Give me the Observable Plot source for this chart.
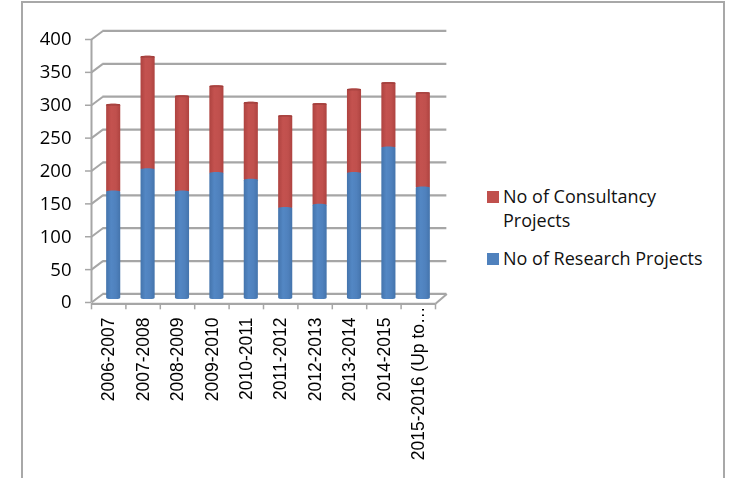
<!DOCTYPE html>
<html><head><meta charset="utf-8">
<script src="https://cdn.jsdelivr.net/npm/d3@7"></script>
<script src="https://cdn.jsdelivr.net/npm/@observablehq/plot@0.6"></script>
<style>
html,body{margin:0;padding:0;background:#fff;overflow:hidden}
#wrap{position:relative;width:731px;height:478px}
#frame{position:absolute;left:21px;top:1px;width:700px;height:490px;border:2px solid #a8a8a8;border-bottom:none}
#chart{position:absolute;left:0;top:0}
#chart svg{filter:blur(.35px)}
.lg{position:absolute;font:18px/24px "Open Sans",sans-serif;color:#111;white-space:nowrap}
.sw{position:absolute;width:12px;height:12px}
</style></head><body>
<div id="wrap"><div id="frame"></div><div id="chart"></div>
<div class="sw" style="left:487px;top:191px;background:#c0504d"></div>
<div class="lg" style="left:503px;top:184px">No of Consultancy<br>Projects</div>
<div class="sw" style="left:487px;top:253px;background:#4f81bd"></div>
<div class="lg" style="left:503px;top:246px">No of Research Projects</div>
</div>
<script>
const categories = ["2006-2007","2007-2008","2008-2009","2009-2010","2010-2011","2011-2012","2012-2013","2013-2014","2014-2015","2015-2016 (Up to…"];
const research = [165,199,165,193,183,140,145,193,232,171];
const consultancy = [132,171,145,132,117,140,153,127,98,144];
const yTicks = [0,50,100,150,200,250,300,350,400];
const xEdges = d3.range(0,11);
const depthX = 0.33, depthY = 13;
const gridColor = "#a6a6a6";
const barHalf = 0.205;

const rows = categories.map((c,i)=>({i,c,r:research[i],t:research[i]+consultancy[i]}));

const gradient = () => {
  const s = d3.create("svg:defs");
  const add = (id, edge, mid, light) => {
    const g = s.append("linearGradient").attr("id", id);
    g.append("stop").attr("offset","0%").attr("stop-color",edge);
    g.append("stop").attr("offset","35%").attr("stop-color",light);
    g.append("stop").attr("offset","70%").attr("stop-color",mid);
    g.append("stop").attr("offset","100%").attr("stop-color",edge);
  };
  add("gr","#ae4340","#c0504d","#c4524f");
  add("gb","#4474ac","#4f81bd","#5387c4");
  add("gc","#9c3a37","#a94441","#a94441");
  return s.node();
};

const barOpts = {dx:5, dy:-3, rx:5, ry:1.5};
const plot = Plot.plot({
  width:731, height:478,
  marginLeft:91, marginRight:296, marginTop:39, marginBottom:176,
  x:{type:"linear", domain:[0,10], axis:null},
  y:{domain:[0,400], axis:null},
  marks:[
    gradient,
    Plot.ruleY(yTicks.map(v=>v+depthY),{x1:depthX,x2:10+depthX,stroke:gridColor,strokeWidth:2.2}),
    Plot.link(yTicks,{x1:0,y1:d=>d,x2:depthX,y2:d=>d+depthY,stroke:gridColor,strokeWidth:2}),
    Plot.link([0],{x1:10,y1:-2,x2:10+depthX,y2:depthY,stroke:gridColor,strokeWidth:2}),
    Plot.ruleX([0],{y1:0,y2:400,stroke:gridColor,strokeWidth:2}),
    Plot.ruleY([-2],{x1:0,x2:10,stroke:gridColor,strokeWidth:2.2}),
    Plot.axisY(yTicks,{anchor:"left",tickSize:6,tickPadding:14,stroke:gridColor,strokeWidth:1.5,fill:"#000",
      fontSize:18.5,fontFamily:"Open Sans",label:null,tickFormat:d=>d}),
    Plot.axisX(xEdges,{anchor:"bottom",y:-2,tickSize:6,tickFormat:()=>"",stroke:gridColor,strokeWidth:1.5,label:null}),
    Plot.rect(rows,{x1:d=>d.i+.5-barHalf,x2:d=>d.i+.5+barHalf,y1:d=>d.r-3,y2:"t",fill:"url(#gr)",...barOpts}),
    Plot.rect(rows,{x1:d=>d.i+.5-barHalf,x2:d=>d.i+.5+barHalf,y1:d=>d.t-3,y2:"t",fill:"url(#gc)",...barOpts}),
    Plot.rect(rows,{x1:d=>d.i+.5-barHalf,x2:d=>d.i+.5+barHalf,y1:0,y2:"r",fill:"url(#gb)",...barOpts}),
    Plot.text(rows.slice(0,9),{x:d=>d.i+.5,y:0,text:"c",rotate:-90,textAnchor:"end",dy:15,
      fontSize:17.5,fontFamily:"Liberation Sans",fill:"#000"}),
    Plot.text(rows.slice(9),{x:d=>d.i+.5,y:0,text:"c",rotate:-90,textAnchor:"end",dy:4,
      fontSize:17.5,fontFamily:"Liberation Sans",fill:"#000"})
  ]
});
document.getElementById("chart").appendChild(plot);
</script>
</body></html>
